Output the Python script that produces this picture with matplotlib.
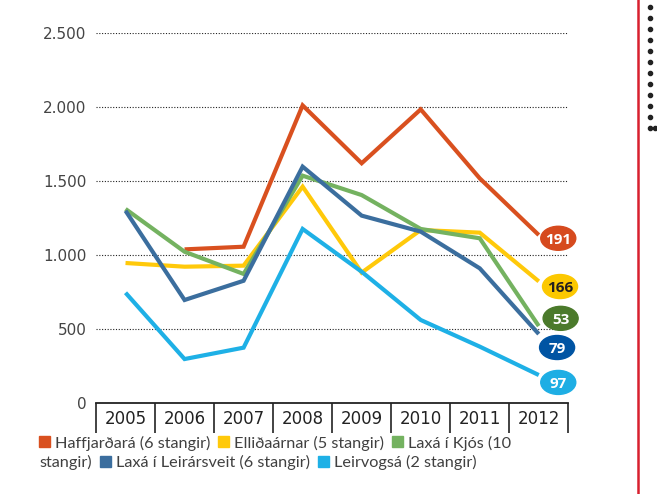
import numpy as np
import matplotlib
matplotlib.use("Agg")
import matplotlib.pyplot as plt
from matplotlib.patches import Ellipse, Rectangle
from matplotlib.lines import Line2D
from matplotlib.ticker import FuncFormatter

# data
years = ["2005", "2006", "2007", "2008", "2009", "2010", "2011", "2012"]
haffjardara = [np.nan, 1040, 1058, 2013, 1622, 1986, 1520, 1137]
ellidaarnar = [948, 923, 930, 1464, 883, 1171, 1153, 824]
laxa_kjos = [1313, 1024, 874, 1538, 1407, 1178, 1115, 522]
laxa_leirarsveit = [1301, 698, 828, 1599, 1268, 1160, 912, 468]
leirvogsa = [747, 299, 376, 1178, 889, 563, 383, 191]
end_values = [191, 166, 53, 79, 97]
names = ["Haffjarðará (6 stangir)", "Elliðaárnar (5 stangir)",
         "Laxá í Kjós (10 stangir)", "Laxá í Leirársveit (6 stangir)",
         "Leirvogsá (2 stangir)"]

series = [haffjardara, ellidaarnar, laxa_kjos, laxa_leirarsveit, leirvogsa]
line_colors = ["#d9501f", "#ffc90a", "#74b260", "#3b6e9e", "#1eb0e6"]
bubble_colors = ["#d64a1e", "#fcc800", "#4b7a2b", "#0054a3", "#1eaee4"]
bubble_text = ["white", "#231f20", "white", "white", "white"]
# bubble centres (layout, data coords)
bubble_x = [7.33, 7.36, 7.37, 7.31, 7.33]
bubble_y = [1115, 789, 574, 377, 141]

W, H = 657, 494
fig = plt.figure(figsize=(W / 100, H / 100), dpi=100)
ax = fig.add_axes([96 / W, 1 - 403.3 / H, (568.3 - 96) / W, (403.3 - 33.3) / H])

x = np.arange(len(years))
for vals, col in zip(series, line_colors):
    ax.plot(x, vals, color=col, lw=3, solid_joinstyle="miter",
            solid_capstyle="butt", clip_on=False, zorder=3)

ax.set_xlim(-0.5, 7.5)
ax.set_ylim(0, 2500)

for s in ["left", "right", "top"]:
    ax.spines[s].set_visible(False)
ax.spines["bottom"].set_linewidth(1.3)
ax.spines["bottom"].set_color("#222222")

ax.set_xticks(x)
ax.set_xticklabels(years)
ax.set_xticks(np.arange(-0.5, 8, 1), minor=True)
ax.tick_params(axis="x", which="major", length=0, pad=5, labelsize=12,
               labelcolor="#222222")
ax.tick_params(axis="x", which="minor", length=21.6, width=1.2,
               color="#222222", direction="out")

ax.set_yticks([0, 500, 1000, 1500, 2000, 2500])
ax.yaxis.set_major_formatter(FuncFormatter(lambda v, p: f"{int(v):,}".replace(",", ".")))
ax.tick_params(axis="y", length=0, pad=7, labelsize=11, labelcolor="#444444")
ax.grid(axis="y", color="#222222", lw=0.8, linestyle=(0, (1, 1.5)))
ax.set_axisbelow(True)

# end-of-line bubbles
for bx, by, val, bc, tc in zip(bubble_x, bubble_y, end_values, bubble_colors, bubble_text):
    ax.add_patch(Ellipse((bx, by), width=35 / 59, height=24 / 0.148, color=bc,
                         clip_on=False, zorder=4))
    ax.text(bx, by, str(val), color=tc, fontsize=11, fontweight="bold",
            family="Open Sans", ha="center", va="center_baseline", zorder=5)

# legend as wrapped text with coloured squares
renderer = fig.canvas.get_renderer()
first, rest = names[2].rsplit(" ", 1)
line1 = [("sq", line_colors[0]), ("tx", names[0]), ("sq", line_colors[1]),
         ("tx", names[1]), ("sq", line_colors[2]), ("tx", first)]
line2 = [("tx", rest), ("sq", line_colors[3]), ("tx", names[3]),
         ("sq", line_colors[4]), ("tx", names[4])]


def put_tokens(tokens, x0, yc):
    xp = x0
    for kind, val in tokens:
        if kind == "sq":
            fig.add_artist(Rectangle((xp / W, 1 - (yc + 4) / H), 11 / W, 11 / H,
                                     color=val, transform=fig.transFigure))
            xp += 11 + 5
        else:
            t = fig.text(xp / W, 1 - yc / H, val, fontsize=11.7, family="Lato",
                         color="#404040", va="center")
            xp += t.get_window_extent(renderer).width + 8


put_tokens(line1, 39, 443)
put_tokens(line2, 39, 462.5)

# page decoration on the right
fig.add_artist(Line2D([638 / W] * 2, [0, 1], color="#d8202e", lw=1.8))
dot_y = np.arange(7, 130, 11)
fig.add_artist(Line2D(np.full(len(dot_y), 650 / W), 1 - dot_y / H, lw=0,
                      marker="o", ms=3, color="#222222"))
fig.add_artist(Line2D([655 / W], [1 - dot_y[-1] / H], marker="o", ms=3, lw=0,
                      color="#222222"))

fig.savefig("out.png", dpi=100)
